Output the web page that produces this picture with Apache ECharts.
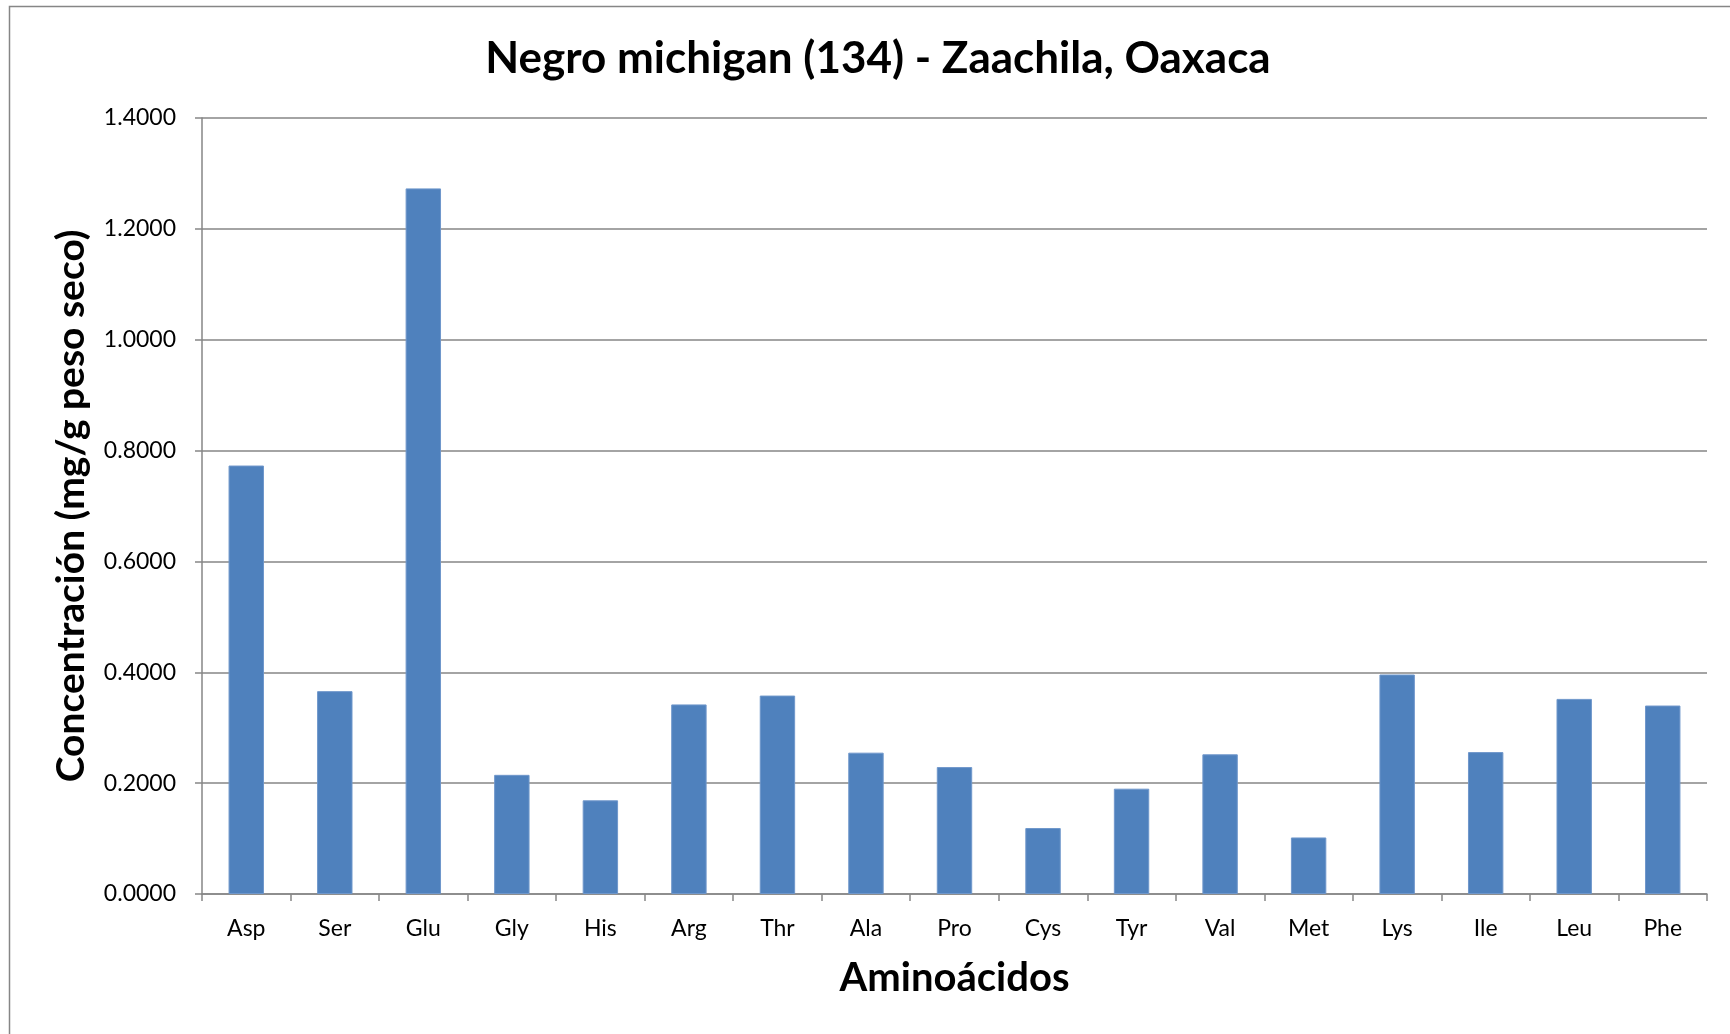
<!DOCTYPE html>
<html>
<head>
<meta charset="utf-8">
<script src="https://cdn.jsdelivr.net/npm/echarts@6/dist/echarts.min.js"></script>
<style>
  html, body { margin: 0; padding: 0; background: #fff; }
  #chart { width: 1730px; height: 1034px; }
</style>
</head>
<body>
<div id="chart"></div>
<script>
// Amino acid concentrations, mg/g dry weight
const aminoacidos = ['Asp', 'Ser', 'Glu', 'Gly', 'His', 'Arg', 'Thr', 'Ala', 'Pro', 'Cys', 'Tyr', 'Val', 'Met', 'Lys', 'Ile', 'Leu', 'Phe'];
const concentracion = [0.773, 0.366, 1.273, 0.215, 0.169, 0.342, 0.358, 0.255, 0.229, 0.119, 0.190, 0.252, 0.102, 0.396, 0.256, 0.352, 0.340];

const FONT = 'Lato, "Open Sans", sans-serif';
const GRAY = '#868686';

const chart = echarts.init(document.getElementById('chart'));
chart.setOption({
  animation: false,
  backgroundColor: '#fff',
  graphic: [{
    type: 'rect',
    shape: { x: 9.5, y: 6.5, width: 1760, height: 1100 },
    style: { fill: 'none', stroke: GRAY, lineWidth: 1.5 },
    silent: true
  }],
  title: {
    text: 'Negro michigan (134) - Zaachila, Oaxaca',
    left: 873, top: 32, textAlign: 'center',
    textStyle: { fontFamily: FONT, fontWeight: 'bold', fontSize: 44, color: '#000' }
  },
  grid: { left: 202, right: 23, top: 118, bottom: 140, containLabel: false },
  xAxis: {
    type: 'category',
    data: aminoacidos,
    name: 'Aminoácidos',
    nameLocation: 'middle',
    nameGap: 64,
    nameTextStyle: { fontFamily: FONT, fontWeight: 'bold', fontSize: 40, color: '#000' },
    axisLine: { lineStyle: { color: GRAY, width: 1.5 } },
    axisTick: { show: true, length: 7, alignWithLabel: false, lineStyle: { color: GRAY, width: 1.5 } },
    axisLabel: { fontFamily: FONT, fontSize: 23, color: '#000', margin: 23 }
  },
  yAxis: {
    type: 'value',
    min: 0, max: 1.4, interval: 0.2,
    name: 'Concentración (mg/g peso seco)',
    nameLocation: 'middle',
    nameGap: 111,
    nameTextStyle: { fontFamily: FONT, fontWeight: 'bold', fontSize: 39, color: '#000' },
    axisLine: { show: true, lineStyle: { color: GRAY, width: 1.5 } },
    axisTick: { show: true, length: 7, lineStyle: { color: GRAY, width: 1.5 } },
    axisLabel: { fontFamily: FONT, fontSize: 23, color: '#000', margin: 26, formatter: v => v.toFixed(4) },
    splitLine: { lineStyle: { color: GRAY, width: 1.5 } }
  },
  series: [{
    type: 'bar',
    data: concentracion,
    barWidth: '40%',
    itemStyle: { color: '#4F81BD', borderColor: '#6f97cb', borderWidth: 1 }
  }]
});
</script>
</body>
</html>
